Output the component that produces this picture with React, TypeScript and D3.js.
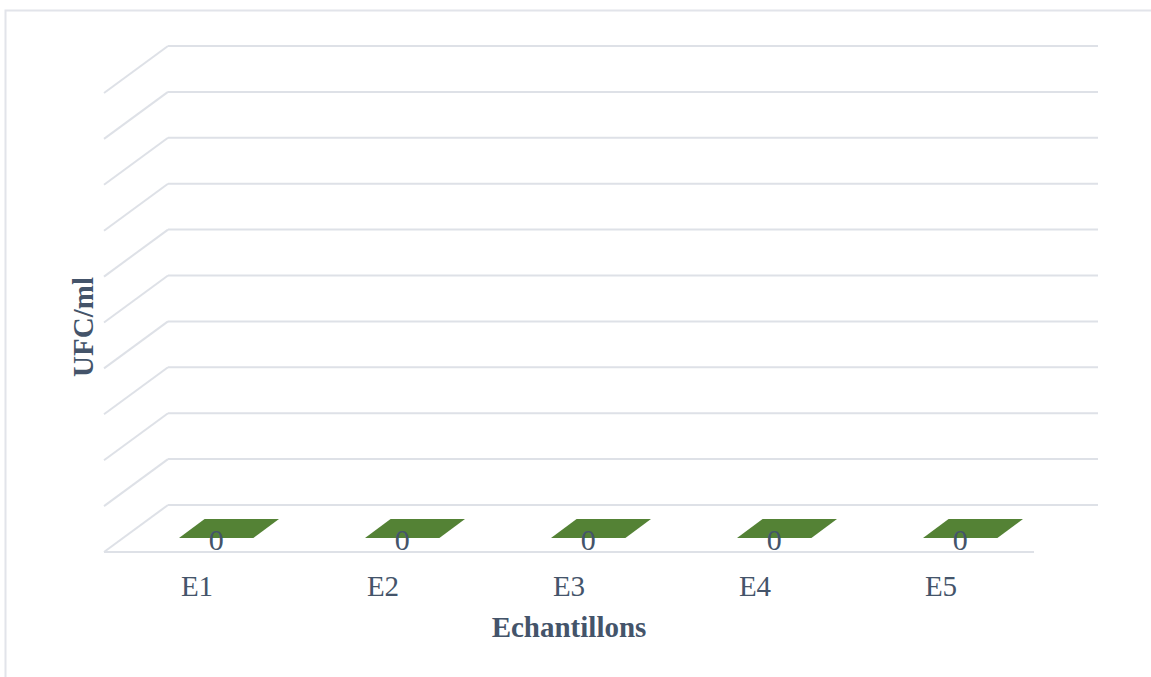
import React from "react";
import * as d3 from "d3";

// Samples and their colony counts (UFC/ml)
const categories: string[] = ["E1", "E2", "E3", "E4", "E5"];
const values: number[] = [0, 0, 0, 0, 0];
const yDomain: [number, number] = [0, 1];
const yTickCount = 10;

const xTitle = "Echantillons";
const yTitle = "UFC/ml";

const W = 1151;
const H = 677;

// Plot geometry (back wall / floor with an oblique depth offset)
const backLeft = 168;
const backRight = 1098;
const backTop = 46;
const backBottom = 505;
const depthDx = 64;
const depthDy = 47;
const frontLeft = backLeft - depthDx;
const frontRight = backRight - depthDx;
const frontBottom = backBottom + depthDy;

const barDepthFront = 0.3;
const barDepthBack = 0.7;

const gridColor = "#DEE1E7";
const textColor = "#44546A";
const barColor = "#548235";
const fontFamily = "'Liberation Serif', 'Times New Roman', serif";

export default function App() {
  const x = d3
    .scaleBand<string>()
    .domain(categories)
    .range([frontLeft, frontRight])
    .paddingInner(0.6)
    .paddingOuter(0.3);
  const xCenter = d3
    .scaleBand<string>()
    .domain(categories)
    .range([frontLeft, frontRight]);
  const y = d3.scaleLinear().domain(yDomain).range([backBottom, backTop]);
  const ticks = d3.range(0, yTickCount + 1).map((i) => yDomain[0] + ((yDomain[1] - yDomain[0]) * i) / yTickCount);

  // point at a given depth fraction (0 = front, 1 = back) and value height
  const pt = (px: number, depth: number, v: number): [number, number] => {
    const h = backBottom - y(v);
    return [px + depth * depthDx, frontBottom - depth * depthDy - h];
  };
  const poly = (pts: [number, number][]) => "M" + pts.map((p) => p.join(",")).join("L") + "Z";

  return (
    <svg
      width={W}
      height={H}
      style={{ position: "absolute", left: 0, top: 0, background: "#fff" }}
      fontFamily={fontFamily}
    >
      <path d={`M5.5,${H} V10.5 H${W}`} fill="none" stroke="#E2E4EA" strokeWidth={2} />

      {/* back wall gridlines with side-wall diagonals */}
      {ticks.map((t, i) => {
        const yy = y(t);
        return (
          <g key={i}>
            <line x1={backLeft} x2={backRight} y1={yy} y2={yy} stroke={gridColor} strokeWidth={2} />
            <line x1={frontLeft} y1={yy + depthDy} x2={backLeft} y2={yy} stroke={gridColor} strokeWidth={2} />
          </g>
        );
      })}
      {/* floor front edge */}
      <line x1={frontLeft} x2={frontRight} y1={frontBottom} y2={frontBottom} stroke={gridColor} strokeWidth={2} />

      {/* bars */}
      {categories.map((c, i) => {
        const v = values[i];
        const x0 = x(c)!;
        const x1 = x0 + x.bandwidth();
        const front: [number, number][] = [
          pt(x0, barDepthFront, 0),
          pt(x1, barDepthFront, 0),
          pt(x1, barDepthFront, v),
          pt(x0, barDepthFront, v),
        ];
        const top: [number, number][] = [
          pt(x0, barDepthFront, v),
          pt(x1, barDepthFront, v),
          pt(x1, barDepthBack, v),
          pt(x0, barDepthBack, v),
        ];
        const side: [number, number][] = [
          pt(x1, barDepthFront, 0),
          pt(x1, barDepthBack, 0),
          pt(x1, barDepthBack, v),
          pt(x1, barDepthFront, v),
        ];
        const lx = (x0 + x1) / 2 + barDepthFront * depthDx;
        const [, ly] = pt(x0, barDepthFront, v);
        return (
          <g key={c}>
            <path d={poly(side)} fill="#3F6128" />
            <path d={poly(front)} fill={barColor} />
            <path d={poly(top)} fill={barColor} />
            <text x={lx} y={ly + 12} textAnchor="middle" fontSize={30} fill={textColor}>
              {v}
            </text>
          </g>
        );
      })}

      {/* category labels */}
      {categories.map((c) => (
        <text
          key={c}
          x={xCenter(c)! + xCenter.bandwidth() / 2}
          y={596}
          textAnchor="middle"
          fontSize={29}
          fill={textColor}
        >
          {c}
        </text>
      ))}

      {/* axis titles */}
      <text
        x={(frontLeft + frontRight) / 2}
        y={637}
        textAnchor="middle"
        fontSize={29}
        fontWeight="bold"
        fill={textColor}
      >
        {xTitle}
      </text>
      <text
        transform={`translate(93,327) rotate(-90)`}
        textAnchor="middle"
        fontSize={29}
        fontWeight="bold"
        fill={textColor}
      >
        {yTitle}
      </text>
    </svg>
  );
}
